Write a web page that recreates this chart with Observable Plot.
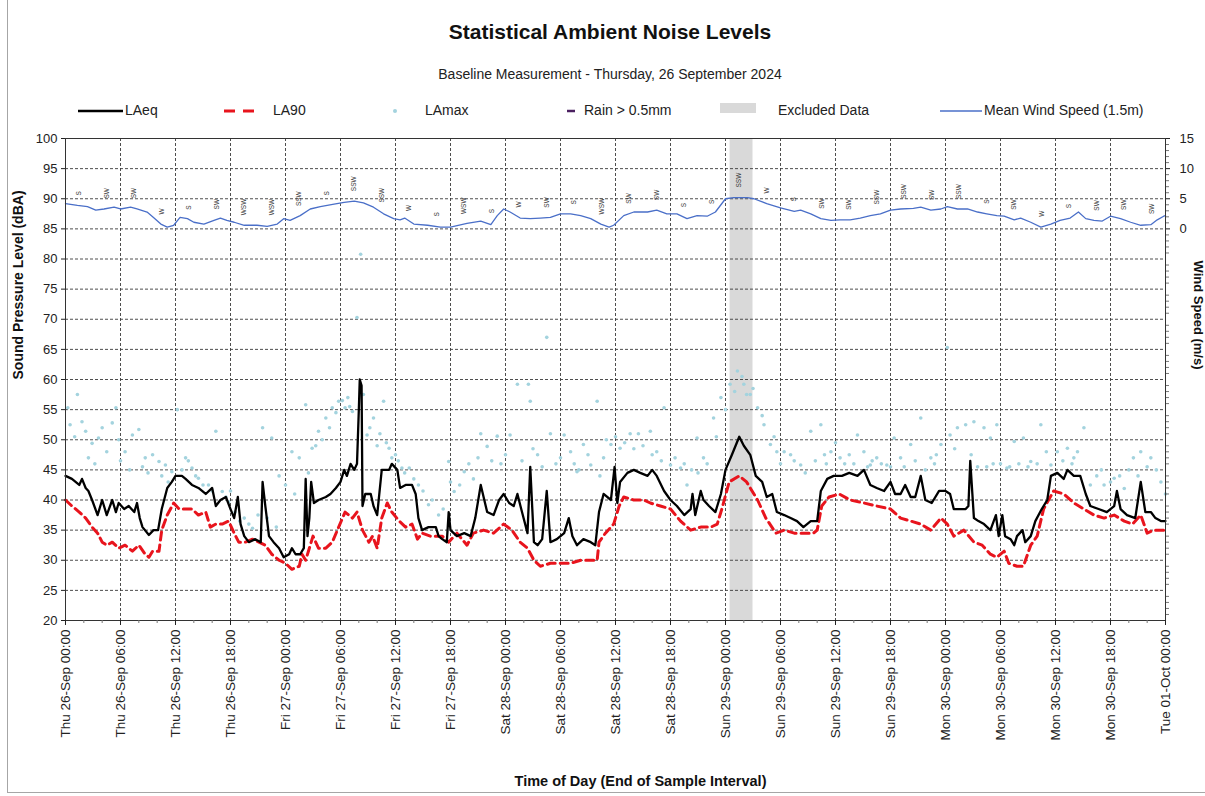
<!DOCTYPE html>
<html><head><meta charset="utf-8">
<script src="https://cdn.jsdelivr.net/npm/d3@7"></script>
<script src="https://cdn.jsdelivr.net/npm/@observablehq/plot@0.6"></script>
<style>
html,body{margin:0;padding:0;background:#fff;}
#wrap{position:relative;width:1205px;height:796px;overflow:hidden;font-family:"Liberation Sans",Arial,sans-serif;}
#head{position:absolute;left:0;top:0;}
#chart{position:absolute;left:0;top:120px;}
#bl{position:absolute;left:7px;top:0;width:1px;height:793px;background:#a6a6a6;}
#bb{position:absolute;left:7px;top:792px;width:1198px;height:1px;background:#a6a6a6;}
</style></head><body>
<div id="wrap">
<svg id="head" width="1205" height="120" font-family="Liberation Sans, Arial, sans-serif">
  <text x="610" y="33" text-anchor="middle" dominant-baseline="middle" font-size="21" font-weight="bold" fill="#111">Statistical Ambient Noise Levels</text>
  <text x="610" y="75" text-anchor="middle" dominant-baseline="middle" font-size="14" fill="#222">Baseline Measurement - Thursday, 26 September 2024</text>
  <line x1="78" y1="111" x2="123" y2="111" stroke="#000" stroke-width="2.5"/>
  <text x="125" y="111" dominant-baseline="middle" font-size="14" fill="#222">LAeq</text>
  <line x1="224" y1="111" x2="256" y2="111" stroke="#e8141d" stroke-width="3" stroke-dasharray="11,8"/>
  <text x="273" y="111" dominant-baseline="middle" font-size="14" fill="#222">LA90</text>
  <circle cx="395" cy="111" r="2" fill="#a3d3de"/>
  <text x="425" y="111" dominant-baseline="middle" font-size="14" fill="#222">LAmax</text>
  <line x1="567" y1="111" x2="575" y2="111" stroke="#4b2060" stroke-width="2.5"/>
  <text x="584" y="111" dominant-baseline="middle" font-size="14" fill="#222">Rain &gt; 0.5mm</text>
  <rect x="720" y="103" width="36" height="10" fill="#d9d9d9"/>
  <text x="778" y="111" dominant-baseline="middle" font-size="14" fill="#222">Excluded Data</text>
  <line x1="940" y1="111" x2="982" y2="111" stroke="#4a6fc8" stroke-width="1.3"/>
  <text x="984" y="111" dominant-baseline="middle" font-size="14" fill="#222">Mean Wind Speed (1.5m)</text>
</svg>
<div id="chart"></div>
<div id="bl"></div><div id="bb"></div>
</div>
<script>
// hours since Thu 26-Sep-2024 00:00, value
const laeq = [[0,44],[0.7,43.5],[1.5,42.5],[1.8,43.5],[2.2,42],[2.5,41.5],[2.9,40],[3.5,37.5],[4.0,40],[4.5,37.5],[5.1,40],[5.5,38],[5.8,39.5],[6.4,38.5],[6.9,39],[7.5,38],[7.8,39.5],[8.1,37],[8.4,35.5],[9.1,34.2],[9.6,35],[10.1,35],[10.5,38.5],[11.1,42],[11.6,43],[12.0,44],[12.7,44],[13.1,43.5],[13.8,42.5],[14.5,42],[15.3,41],[16.0,42],[16.4,39],[16.9,40],[17.5,40.5],[18.0,38.5],[18.4,37],[18.8,40.5],[19.1,36],[19.5,34],[20.0,33],[20.7,33.5],[21.3,33],[21.5,43],[21.8,39],[22.2,34],[22.7,33],[23.3,32],[23.8,30.5],[24.4,31],[24.7,32],[25.1,31],[25.6,31],[26.0,32],[26.2,43.5],[26.4,34],[26.6,37],[26.8,43],[27.1,39.5],[27.6,40],[28.4,40.5],[28.9,41],[29.5,42],[30.0,43],[30.4,45],[30.7,44],[31.1,46],[31.5,45],[31.8,46],[32.0,55],[32.1,60],[32.3,59],[32.4,39],[32.7,41],[33.3,41],[33.6,39],[34.0,37.5],[34.5,45],[35.3,45],[35.6,46],[36.2,45],[36.5,42],[37.1,42.5],[37.8,42.5],[38.2,41],[38.5,37],[38.9,35],[39.6,35.5],[40.4,35.5],[40.7,34],[41.1,33.5],[41.6,33],[41.8,38],[42.0,35],[42.7,34],[43.5,34.5],[44.2,34],[44.7,37],[45.3,42.5],[46.0,38],[46.7,37.5],[47.3,40],[47.8,41],[48.4,39.5],[48.9,39],[49.3,41],[49.8,38],[50.4,34.5],[50.7,45.5],[51.1,33],[51.5,32.5],[52.0,33.5],[52.5,41.5],[52.9,33],[53.6,33.5],[54.4,34.5],[54.9,37],[55.3,34],[55.8,32.5],[56.5,33.5],[57.3,33],[57.8,32.5],[58.2,38],[58.7,41],[59.5,40],[59.9,45.5],[60.2,39.5],[60.5,43],[61.3,44.5],[62.0,45],[62.7,44.5],[63.5,44],[64.0,45],[64.5,44],[65.3,41.5],[66.0,40],[66.7,39],[67.5,37.5],[68.2,38.5],[68.4,41],[68.7,37.5],[69.3,41.5],[69.6,40],[70.2,39],[70.9,38],[71.5,41],[72.0,45],[72.7,47.5],[73.5,50.5],[74.0,49],[74.7,47.5],[75.3,44],[76.0,43],[76.5,40.5],[77.1,41],[77.6,38],[78.4,37.5],[79.1,37],[79.8,36.5],[80.5,35.5],[81.3,36.5],[82.0,36.5],[82.4,41.5],[83.1,43.5],[83.8,44],[84.7,44],[85.5,44.5],[86.4,44],[87.1,45],[87.8,42.5],[88.5,42],[89.3,41.5],[90.0,43],[90.5,41],[91.1,41],[91.6,42.5],[92.2,40.5],[92.7,40.5],[93.3,44],[93.8,40],[94.5,39.5],[95.3,41.5],[96.0,41.5],[96.5,41],[96.9,38.5],[97.6,38.5],[98.2,38.5],[98.5,39],[98.7,46.5],[99.1,37],[99.6,36.5],[100.2,36],[100.9,35],[101.5,37.5],[101.8,34],[102.2,37.5],[102.5,34],[103.1,33.5],[103.5,32.5],[103.8,34],[104.4,35],[104.7,33],[105.3,34],[105.8,36.5],[106.5,38.5],[107.1,40],[107.5,44],[108.2,44.5],[108.9,43.5],[109.3,45],[110.0,44],[110.7,44],[111.3,41],[111.8,39],[112.7,38.5],[113.6,38],[114.4,39],[114.7,41.5],[115.1,38.5],[115.8,37.5],[116.7,37],[117.3,43],[117.8,38],[118.4,38],[118.9,37],[119.5,36.5],[120.0,36.5]];

const la90 = [[0,40],[0.7,39],[1.5,38],[2.2,37],[2.9,35.5],[3.5,34.5],[4.0,33],[4.5,32.5],[5.1,33],[5.8,32],[6.5,32.5],[7.3,31.5],[8.0,32.5],[8.7,31],[9.1,30.5],[9.5,31.5],[10.2,31.5],[10.5,35],[11.1,37.5],[11.8,39.5],[12.4,38.5],[13.1,38.5],[13.8,38.5],[14.5,37.5],[15.3,38],[15.8,35.5],[16.4,36],[17.1,36],[17.8,36.5],[18.4,34.5],[18.9,33],[19.6,33],[20.4,33.5],[21.1,33],[21.8,32.5],[22.5,31],[23.3,30],[24.0,29.5],[24.7,28.5],[25.5,29],[25.8,31],[26.2,30],[27.0,34],[27.6,32],[28.4,32],[29.1,33],[29.8,35.5],[30.5,38],[31.3,37],[31.8,38],[32.4,35],[33.1,33],[33.5,34],[34.0,32],[34.5,37],[35.1,39.5],[35.6,38],[36.4,36.5],[37.1,35.5],[37.8,36],[38.4,33.5],[38.9,34.5],[39.8,34],[40.5,34],[41.1,34],[41.8,33],[42.7,34.5],[43.8,32.5],[44.5,34.5],[45.6,35],[46.7,34.5],[47.8,36],[48.7,35],[49.6,33],[50.4,32],[51.1,30],[51.8,29],[52.9,29.5],[54.0,29.5],[55.1,29.5],[56.2,30],[57.3,30],[58.0,30],[58.2,33],[58.9,34.5],[59.8,36],[60.4,39],[60.9,40.5],[62.0,40],[63.1,40],[63.8,39.5],[64.9,39],[66.0,38.5],[67.1,36.5],[68.2,35],[69.3,35.5],[70.4,35.5],[71.1,36],[71.6,38.5],[72.4,43],[73.5,44],[74.3,43],[75.5,40],[76.4,37],[77.5,34.5],[78.4,35],[79.5,34.5],[80.5,34.5],[81.6,34.5],[82.0,35],[82.5,39],[83.3,40.5],[84.4,41],[85.6,40],[87.1,39.5],[88.5,39],[90.0,38.5],[91.1,37],[92.2,36.5],[93.3,36],[94.4,35],[95.5,37],[96.2,36],[96.9,34],[98.0,35],[99.1,33],[100.0,32.5],[100.9,31],[101.6,30.5],[102.4,31.5],[102.9,29.5],[103.8,29],[104.5,29],[105.3,32.5],[106.0,34],[106.7,38.5],[107.8,41.5],[108.9,41],[110.0,39.5],[111.1,38.5],[112.2,37.5],[113.3,37],[114.4,37.5],[115.5,36.5],[116.4,36],[117.3,37.5],[118.0,34.5],[118.7,35],[119.8,35],[120.0,35]];

const lamax = [[0.25,55.3],[0.5,52.5],[1.0,50.5],[1.3,57.5],[1.8,53],[2.2,51.4],[2.5,47],[2.9,49.4],[3.2,46],[3.6,50.3],[4.0,52],[4.5,48],[5.1,52.8],[5.5,55.3],[5.8,50],[6.0,46.5],[6.5,48],[7.0,45],[7.3,50.8],[8.0,51.7],[8.4,45.5],[8.7,47],[9.0,44.5],[9.5,47.5],[10.2,46.4],[10.5,44],[10.9,45.8],[11.2,43],[11.6,44.7],[12.2,55],[12.7,45],[13.1,47],[13.4,46.5],[13.8,45.3],[14.2,44],[14.5,43.6],[15.0,42.5],[15.6,42.5],[16.0,41.5],[16.4,51.4],[17.1,41.4],[17.5,40.5],[17.8,39.7],[18.0,41.5],[18.5,38],[19.0,36.5],[19.5,37],[20.0,36],[20.4,35.3],[21.0,37.5],[21.5,52],[22.0,37],[22.5,50.3],[23.0,35.5],[23.3,44],[24.0,42.5],[24.7,48],[25.0,41],[25.5,47],[26.2,55.8],[26.5,44.5],[26.9,48.6],[27.3,49],[27.6,51.4],[28.0,50],[28.4,53.6],[28.8,52],[29.1,55.3],[29.5,54.5],[29.8,56.4],[30.2,56.5],[30.5,55.3],[30.8,57],[31.0,55.5],[31.3,54.7],[31.8,70.3],[32.2,80.8],[32.5,57.5],[32.9,50.8],[33.2,52],[33.6,53.6],[34.0,49],[34.3,51],[34.7,56.4],[35.0,49.5],[35.3,48.6],[35.6,47],[36.0,47.5],[36.3,46.5],[36.7,45.3],[37.0,44.5],[37.5,45.3],[38.0,43.5],[38.5,42.5],[39.0,41.5],[39.6,39.2],[40.0,40],[40.7,37.5],[41.2,38.5],[41.8,46.4],[42.0,43],[42.4,41.4],[43.0,42.5],[43.5,44.7],[44.0,46],[44.5,43.5],[45.0,47],[45.3,51],[46.0,48.9],[46.5,46.5],[47.1,50.6],[47.5,46],[48.0,47.5],[48.5,50.8],[49.3,59.2],[49.8,46.5],[50.5,59.2],[50.7,56.4],[51.0,48.5],[51.5,47.5],[52.0,45.5],[52.5,67],[52.9,51],[53.5,46],[54.0,47],[54.4,50.8],[55.1,48],[55.5,46],[55.8,44.7],[56.0,45],[56.5,49.2],[57.0,47.5],[57.3,45.8],[58.0,56.4],[58.3,44],[58.7,47],[59.0,50],[59.5,49.2],[60.0,50.5],[60.5,48.6],[61.0,49.5],[61.6,51],[62.0,48.5],[62.5,51],[63.0,49],[63.8,51.4],[64.0,47.5],[64.5,48],[65.0,46.5],[65.3,55.3],[66.0,45.8],[66.5,47],[67.1,45.3],[67.5,46],[67.8,42.5],[68.3,45],[68.9,50.3],[69.0,44.5],[69.6,47],[70.0,46],[70.7,53.6],[71.0,50.5],[71.5,57],[72.0,55],[72.5,59.2],[73.0,58],[73.3,61.4],[73.8,60.5],[74.0,59.2],[74.3,57.5],[74.7,57.5],[75.0,58.5],[75.5,55.3],[76.0,54],[76.2,52.5],[76.9,49.2],[77.3,50.5],[77.6,48],[78.0,46],[78.4,48],[79.1,47.5],[79.5,46.5],[80.2,45.8],[80.7,44.5],[81.3,51.4],[81.8,46.5],[82.4,52.5],[82.8,47.5],[83.0,46],[83.5,48],[84.0,49.5],[84.5,47],[85.0,46],[85.5,47.5],[86.0,46],[86.4,50.8],[87.1,48],[87.5,45.5],[87.8,45.8],[88.0,46.5],[88.5,47],[89.0,46],[89.6,45.8],[90.0,45.5],[90.4,50.3],[91.1,47],[91.5,45.5],[92.2,49.2],[92.7,46.5],[93.3,53.6],[93.8,45],[94.4,47],[94.8,46],[95.0,47.5],[95.5,49.2],[96.2,65.3],[96.5,50.8],[97.0,48.5],[97.3,52],[98.2,52.5],[98.8,47.5],[99.1,53],[99.5,45.5],[100.2,52],[100.5,45.5],[100.9,50.3],[101.2,46],[101.6,52.5],[102.0,46],[102.7,45.3],[103.0,45.5],[103.5,49.7],[104.0,46],[104.5,50.3],[105.0,45.5],[105.3,46.4],[106.0,46],[106.4,52.5],[107.0,48],[107.5,45.8],[108.2,48],[108.8,46.5],[109.3,48.6],[109.8,46],[110.0,47],[110.4,48],[111.1,52],[111.8,42.5],[112.5,44],[113.0,45],[113.3,42.5],[114.0,43],[114.4,43.6],[115.0,44],[115.5,41.9],[116.0,45],[116.5,47],[117.0,44],[117.3,48],[118.0,45.5],[118.4,47],[119.0,45],[119.5,43],[120.0,41]];

// mean wind speed (m/s)
const wind = [[0,4.2],[1.3,3.9],[2.4,3.7],[3.3,3.1],[4.2,3.3],[5.3,3.6],[6.0,3.3],[7.1,3.6],[7.8,3.3],[8.9,2.8],[9.6,1.9],[10.4,0.8],[11.1,0.3],[11.8,0.6],[12.5,1.9],[13.3,1.7],[14.0,1.1],[15.1,0.8],[16.2,1.4],[16.9,1.8],[17.6,1.4],[18.4,1.1],[19.5,0.6],[20.9,0.6],[22.0,0.4],[23.1,0.8],[23.8,1.7],[24.5,1.4],[25.6,2.2],[26.7,3.3],[27.8,3.7],[29.3,4.1],[30.4,4.4],[31.5,4.6],[32.5,4.3],[33.6,3.6],[34.7,2.5],[35.8,1.7],[36.5,1.5],[37.0,1.8],[38.0,0.8],[39.5,0.6],[40.9,0.3],[42.0,0.3],[43.8,0.9],[45.3,1.3],[46.4,0.7],[47.1,2.2],[47.8,3.3],[48.5,2.8],[49.6,1.8],[50.7,1.7],[51.8,1.8],[52.9,1.9],[54.0,2.5],[55.1,2.5],[56.2,2.2],[57.3,1.7],[58.4,0.8],[59.3,0.3],[59.8,0.6],[60.9,2.2],[62.0,2.8],[63.5,2.8],[64.5,3.1],[65.6,2.5],[66.7,2.5],[67.8,1.7],[68.9,2.2],[70.0,2.1],[70.9,2.8],[72.0,5.0],[72.9,5.2],[74.4,5.2],[75.1,5.0],[76.5,4.2],[78.0,3.5],[79.5,2.9],[80.2,3.1],[81.3,2.5],[82.4,1.7],[83.5,1.4],[84.5,1.5],[85.6,1.5],[86.7,1.8],[87.8,2.2],[88.9,2.5],[90.0,3.1],[91.1,3.3],[92.5,3.4],[93.3,3.6],[94.4,3.1],[95.5,3.3],[96.2,3.7],[97.3,3.3],[98.4,3.3],[99.5,2.8],[100.5,2.5],[101.6,2.2],[102.4,2.1],[103.5,1.5],[104.2,1.8],[105.3,1.1],[106.4,0.3],[107.5,0.8],[108.5,1.4],[109.6,1.8],[110.5,2.8],[111.3,1.7],[112.2,1.4],[113.1,1.3],[114.0,2.1],[115.1,1.7],[116.2,1.1],[117.3,0.6],[118.4,0.7],[119.1,1.5],[119.8,2.1],[120.0,2.2]];

// wind direction labels (every 3 h)
const windDirHours = [1.5,4.5,7.5,10.5,13.5,16.5,19.5,22.5,25.5,28.5,31.5,34.5,37.5,40.5,43.5,46.5,49.5,52.5,55.5,58.5,61.5,64.5,67.5,70.5,73.5,76.5,79.5,82.5,85.5,88.5,91.5,94.5,97.5,100.5,103.5,106.5,109.5,112.5,115.5,118.5];
const windDirLabels = ["S","SW","SW","W","S","SW","WSW","WSW","SSW","S","SSW","SSW","W","S","WSW","S","W","SW","S","WSW","SW","SW","S","S","SSW","W","S","SW","SW","SSW","SSW","SW","SSW","S","SW","W","S","SW","SW","SW"];

// excluded period (hours)
const excluded = [[72.5, 75.0]];

const xTickHours = [0,6,12,18,24,30,36,42,48,54,60,66,72,78,84,90,96,102,108,114,120];
const xMinorHours = [2,4,8,10,14,16,20,22,26,28,32,34,38,40,44,46,50,52,56,58,62,64,68,70,74,76,80,82,86,88,92,94,98,100,104,106,110,112,116,118];
const yTicks = [20,25,30,35,40,45,50,55,60,65,70,75,80,85,90,95,100];
const windTicks = [0,5,10,15];
const windOffset = 85; // wind axis 0 m/s aligned with 85 dB

const T0 = Date.UTC(2024, 8, 26);
const toDate = h => new Date(T0 + h * 3600000);
const asRows = arr => arr.map(([h, v]) => ({t: toDate(h), v}));

const windAt = h => {
  for (let i = 0; i < wind.length - 1; i++) {
    const [h0, w0] = wind[i], [h1, w1] = wind[i + 1];
    if (h >= h0 && h <= h1) return w0 + (w1 - w0) * (h - h0) / (h1 - h0);
  }
  return wind[wind.length - 1][1];
};
const dirRows = windDirHours.map((h, i) => ({t: toDate(h), v: windOffset + windAt(h), label: windDirLabels[i]}));

const fmt = d3.utcFormat("%a %d-%b %H:%M");
const gridStyle = {stroke: "#3a3a3a", strokeWidth: 0.9, strokeDasharray: "3,2"};
const minorRight = d3.range(20, 101, 1).filter(d => d % 5 !== 0);

const chart = Plot.plot({
  width: 1205,
  height: 676,
  marginTop: 18,
  marginBottom: 176,
  marginLeft: 65,
  marginRight: 40,
  style: {fontFamily: "Liberation Sans, Arial, sans-serif", background: "white", color: "#222", overflow: "visible"},
  x: {type: "utc", domain: [toDate(0), toDate(120)]},
  y: {domain: [20, 100]},
  marks: [
    Plot.rect(excluded, {x1: d => toDate(d[0]), x2: d => toDate(d[1]), y1: 20, y2: 100, fill: "#d9d9d9"}),
    Plot.ruleX(xTickHours.slice(1, -1).map(toDate), {...gridStyle}),
    Plot.ruleY(yTicks.slice(1, -1), {...gridStyle}),
    Plot.dot(asRows(lamax), {x: "t", y: "v", r: 1.8, fill: "#a3d3de", stroke: null}),
    Plot.line(asRows(wind), {x: "t", y: d => windOffset + d.v, stroke: "#4a6fc8", strokeWidth: 1.3}),
    Plot.text(dirRows, {x: "t", y: "v", text: "label", rotate: -90, textAnchor: "start", dy: -10, fontSize: 6.5, fill: "#333"}),
    Plot.line(asRows(la90), {x: "t", y: "v", stroke: "#e8141d", strokeWidth: 3, strokeDasharray: "8,5"}),
    Plot.line(asRows(laeq), {x: "t", y: "v", stroke: "#000", strokeWidth: 2.3}),
    Plot.frame({stroke: "#333", strokeWidth: 1}),
    Plot.axisY({ticks: yTicks, anchor: "left", tickSize: 4, tickPadding: 4, fontSize: 13, label: null}),
    Plot.axisY({ticks: windTicks.map(w => w + windOffset), anchor: "right", tickSize: 4, tickPadding: 10, fontSize: 13, label: null, tickFormat: d => String(d - windOffset)}),
    Plot.axisY({ticks: minorRight, anchor: "right", tickSize: 3, tickFormat: () => "", label: null, stroke: "#777"}),
    Plot.axisX({ticks: xTickHours.map(toDate), tickFormat: fmt, tickRotate: -90, tickSize: 5, tickPadding: 4, fontSize: 13.5, label: null}),
    Plot.axisX({ticks: xMinorHours.map(toDate), tickFormat: () => "", tickSize: 3, label: null, stroke: "#777"}),
    Plot.text(["Sound Pressure Level (dBA)"], {text: d => d, frameAnchor: "left", dx: -47, rotate: -90, fontSize: 14, fontWeight: "bold", fill: "#111"}),
    Plot.text(["Wind Speed (m/s)"], {text: d => d, frameAnchor: "right", dx: 33, dy: -10, rotate: 90, fontSize: 13, fontWeight: "bold", fill: "#111"}),
    Plot.text(["Time of Day (End of Sample Interval)"], {text: d => d, frameAnchor: "bottom", dx: 25, dy: 165, fontSize: 14.5, fontWeight: "bold", fill: "#111"})
  ]
});
document.getElementById("chart").appendChild(chart);
</script>
</body></html>
